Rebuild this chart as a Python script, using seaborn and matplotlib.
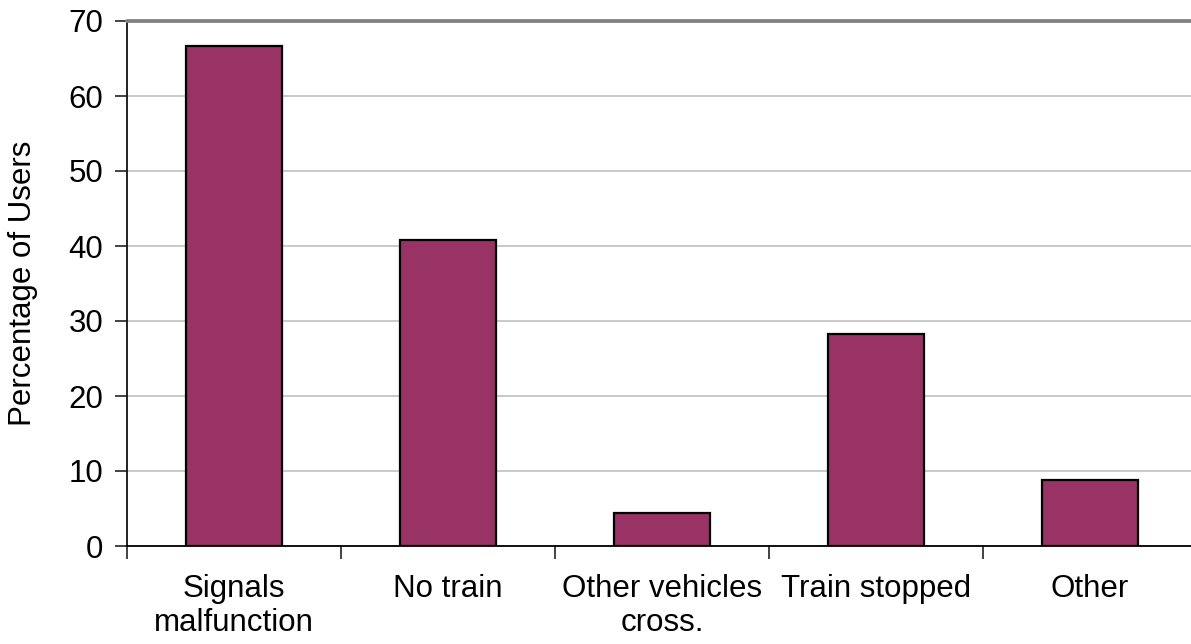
import numpy as np
import pandas as pd
import matplotlib
matplotlib.use('Agg')
import matplotlib.pyplot as plt
import seaborn as sns

# Values
categories = ['Signals\nmalfunction', 'No train', 'Other vehicles\ncross.',
              'Train stopped', 'Other']
percentages = [66.7, 40.8, 4.4, 28.3, 8.8]
y_ticks = [0, 10, 20, 30, 40, 50, 60, 70]

sns.set_style('white')
plt.rcParams['font.family'] = ['Liberation Sans', 'DejaVu Sans']
plt.rcParams['font.size'] = 22.5
plt.rcParams['text.color'] = 'black'
plt.rcParams['axes.labelcolor'] = 'black'

df = pd.DataFrame({'reason': categories, 'pct': percentages})

fig = plt.figure(figsize=(11.91, 6.44), dpi=100)
ax = fig.add_axes([127 / 1191, 98 / 644, 1070 / 1191, 525 / 644])

sns.barplot(data=df, x='reason', y='pct', color='#993366', saturation=1,
            edgecolor='black', linewidth=1.6, width=0.45, ax=ax, zorder=3)

ax.set_ylim(0, 70)
ax.set_xlim(-0.5, len(categories) - 0.5)
ax.set_yticks(y_ticks)
ax.yaxis.grid(True, color='#c0c0c0', linewidth=1.2, zorder=0)
ax.set_axisbelow(True)

# darker line on top of the plot area, like the 70 gridline in the original
ax.axhline(70, color='#808080', linewidth=2.7, zorder=4, clip_on=False)

for side in ['top', 'right']:
    ax.spines[side].set_visible(False)
ax.spines['left'].set_color('#111111')
ax.spines['left'].set_linewidth(1.3)
ax.spines['bottom'].set_color('black')
ax.spines['bottom'].set_linewidth(1.3)

# category separators as minor ticks
ax.set_xticks(np.arange(-0.5, len(categories)), minor=True)
ax.tick_params(axis='x', which='major', length=0, pad=20, labelsize=22.5,
               labelcolor='black')
ax.tick_params(axis='x', which='minor', length=9, width=1.2, color='#222222',
               direction='out', bottom=True)
ax.tick_params(axis='y', length=9, width=1.2, color='#222222',
               direction='out', left=True, pad=8, labelsize=22.5,
               labelcolor='black')

ax.set_xlabel('')
ax.set_ylabel('Percentage of Users', fontsize=22.5, labelpad=22)

fig.savefig('out.png', dpi=100)
